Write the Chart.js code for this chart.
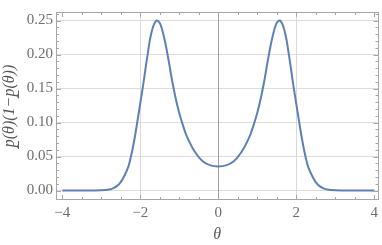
<!DOCTYPE html>
<html>
<head>
<meta charset="utf-8">
<script src="https://cdn.jsdelivr.net/npm/chart.js@4/dist/chart.umd.min.js"></script>
<style>
  html, body { margin: 0; padding: 0; background: #fff; }
  #wrap { width: 382px; height: 245px; }
</style>
</head>
<body>
<div id="wrap"><canvas id="myChart"></canvas></div>
<script>
'use strict';
// values
const thetas = [
  -4, -3.5, -3.2, -3, -2.8, -2.7, -2.6, -2.5, -2.4, -2.3,
  -2.25, -2.2, -2.15, -2.1, -2.05, -2, -1.95, -1.9, -1.85, -1.8,
  -1.75, -1.7, -1.65, -1.6, -1.57, -1.55, -1.5, -1.45, -1.4, -1.35,
  -1.3, -1.25, -1.2, -1.1, -1, -0.9, -0.8, -0.6, -0.4, -0.2,
  0,
  0.2, 0.4, 0.6, 0.8, 0.9, 1, 1.1, 1.2, 1.25, 1.3,
  1.35, 1.4, 1.45, 1.5, 1.55, 1.57, 1.6, 1.65, 1.7, 1.75,
  1.8, 1.85, 1.9, 1.95, 2, 2.05, 2.1, 2.15, 2.2, 2.25,
  2.3, 2.4, 2.5, 2.6, 2.7, 2.8, 3, 3.2, 3.5, 4
];
const values = [
  0, 0, 0.0001, 0.0004, 0.0016, 0.0033, 0.0065, 0.0125, 0.0225, 0.036,
  0.047, 0.06, 0.075, 0.092, 0.11, 0.128, 0.146, 0.165, 0.185, 0.204,
  0.222, 0.235, 0.244, 0.2492, 0.25, 0.2498, 0.2465, 0.239, 0.228, 0.215,
  0.2, 0.184, 0.167, 0.138, 0.114, 0.095, 0.079, 0.057, 0.043, 0.037,
  0.0355,
  0.037, 0.043, 0.057, 0.079, 0.095, 0.114, 0.138, 0.167, 0.184, 0.2,
  0.215, 0.228, 0.239, 0.2465, 0.2498, 0.25, 0.2492, 0.244, 0.235, 0.222,
  0.204, 0.185, 0.165, 0.146, 0.128, 0.11, 0.092, 0.075, 0.06, 0.047,
  0.036, 0.0225, 0.0125, 0.0065, 0.0033, 0.0016, 0.0004, 0.0001, 0, 0
];
const xTicks = [-4, -2, 0, 2, 4];
const yTicks = [0, 0.05, 0.1, 0.15, 0.2, 0.25];
const xGrid = [-2, 2];

const points = [];
for (let i = 0; i < thetas.length; i++) {
  points.push({x: thetas[i], y: values[i]});
}

const frameColor = '#a6a6a6';
const labelFont = {family: 'Liberation Serif', size: 15};

// frame box with inward major and minor ticks on all four sides
const framePlugin = {
  id: 'frame',
  afterDraw(chart) {
    const ctx = chart.ctx;
    const a = chart.chartArea;
    const xs = chart.scales.x;
    const ys = chart.scales.y;
    ctx.save();
    ctx.strokeStyle = frameColor;
    ctx.lineWidth = 1;
    ctx.beginPath();
    for (let k = -8; k <= 8; k++) {
      const px = Math.round(xs.getPixelForValue(k / 2)) + 0.5;
      const len = (k % 4 === 0) ? 5 : 3;
      ctx.moveTo(px, a.bottom);
      ctx.lineTo(px, a.bottom - len);
      ctx.moveTo(px, a.top);
      ctx.lineTo(px, a.top + len);
    }
    for (let k = 0; k <= 26; k++) {
      const py = Math.round(ys.getPixelForValue(k / 100)) + 0.5;
      const len = (k % 5 === 0) ? 5 : 3;
      ctx.moveTo(a.left, py);
      ctx.lineTo(a.left + len, py);
      ctx.moveTo(a.right, py);
      ctx.lineTo(a.right - len, py);
    }
    ctx.stroke();
    ctx.strokeRect(Math.round(a.left) + 0.5, Math.round(a.top) + 0.5,
      Math.round(a.right - a.left) - 1, Math.round(a.bottom - a.top) - 1);
    ctx.restore();
  }
};

// vertical grid lines at -2 and 2, and the axis at 0
const gridPlugin = {
  id: 'vgrid',
  beforeDatasetsDraw(chart) {
    const ctx = chart.ctx;
    const a = chart.chartArea;
    const xs = chart.scales.x;
    ctx.save();
    ctx.lineWidth = 1;
    ctx.strokeStyle = '#d9d9d9';
    ctx.beginPath();
    for (const g of xGrid) {
      const px = Math.round(xs.getPixelForValue(g)) + 0.5;
      ctx.moveTo(px, a.top);
      ctx.lineTo(px, a.bottom);
    }
    ctx.stroke();
    ctx.strokeStyle = '#a0a0a0';
    ctx.beginPath();
    const p0 = Math.round(xs.getPixelForValue(0)) + 0.5;
    ctx.moveTo(p0, a.top);
    ctx.lineTo(p0, a.bottom);
    ctx.stroke();
    ctx.restore();
  }
};

const ctx = document.getElementById('myChart').getContext('2d');
const chart = new Chart(ctx, {
  type: 'line',
  data: {
    datasets: [{
      data: points,
      borderColor: '#5e81b5',
      borderWidth: 2,
      pointRadius: 0,
      tension: 0.3,
      fill: false
    }]
  },
  options: {
    responsive: true,
    maintainAspectRatio: false,
    animation: false,
    layout: {padding: {top: 1, right: 2, left: 0, bottom: 0}},
    plugins: {legend: {display: false}, tooltip: {enabled: false}},
    scales: {
      x: {
        type: 'linear',
        min: -4.16,
        max: 4.11,
        afterBuildTicks: s => { s.ticks = xTicks.map(v => ({value: v})); },
        afterFit: s => { s.height = 45; },
        ticks: {
          color: '#6e6e6e',
          font: labelFont,
          padding: 4,
          maxRotation: 0,
          callback: v => (v < 0 ? '\u2212' + Math.abs(v) : String(v))
        },
        grid: {display: false, drawTicks: false},
        border: {display: false},
        title: {
          display: true,
          text: '\u03b8',
          color: '#555',
          font: {family: 'Liberation Serif', size: 16, style: 'italic'},
          padding: {top: 0, bottom: 1}
        }
      },
      y: {
        min: -0.0139,
        max: 0.2625,
        afterBuildTicks: s => { s.ticks = yTicks.map(v => ({value: v})); },
        afterFit: s => { s.width = 56; },
        ticks: {
          color: '#6e6e6e',
          font: labelFont,
          padding: 3,
          callback: v => v.toFixed(2)
        },
        grid: {color: '#dcdcdc', drawTicks: false},
        border: {display: false},
        title: {
          display: true,
          text: 'p\u0332(\u03b8)(1\u2212p\u0332(\u03b8))',
          color: '#555',
          font: {family: 'Liberation Serif', size: 16, style: 'italic'},
          padding: {top: 0, bottom: 0}
        }
      }
    }
  },
  plugins: [gridPlugin, framePlugin]
});
</script>
</body>
</html>
